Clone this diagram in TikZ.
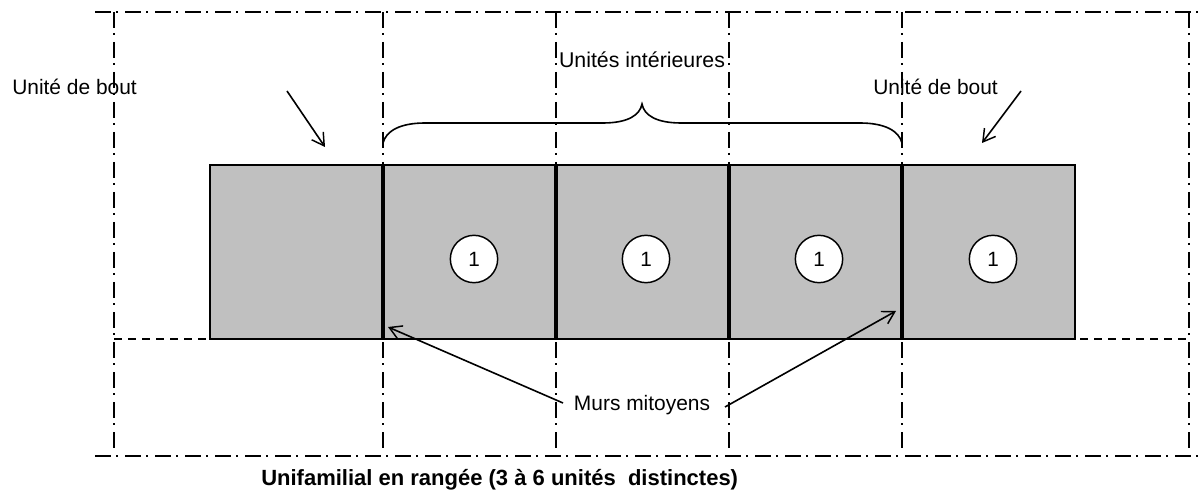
\documentclass[tikz,border=0pt]{standalone}
\usepackage{fontspec}
\setmainfont{Liberation Sans}
\usetikzlibrary{arrows.meta}
\definecolor{gray75}{RGB}{192,192,192}
\tikzset{
  axisline/.style={line width=1.25pt,black,dash pattern=on 12pt off 3.75pt on 1.5pt off 5.25pt},
  dashline/.style={line width=1.2pt,black,dash pattern=on 6.25pt off 4.25pt},
  unitbox/.style={draw=black,fill=gray75,line width=1.4pt,minimum width=129.75pt,minimum height=130.5pt,inner sep=0pt,outer sep=0pt,anchor=north west},
  party/.style={line width=2.8pt,black},
  circ/.style={circle,draw=black,fill=white,line width=1.1pt,minimum size=35.5pt,inner sep=0pt,font=\fontsize{15.5}{18}\selectfont},
  lab/.style={inner sep=0pt,font=\fontsize{15.7}{18}\selectfont},
  pointer/.style={line width=1.2pt,black,-{Straight Barb[length=9pt,width=10.5pt,line width=1.1pt]}},
  bracel/.style={line width=1.2pt,black}
}
\begin{document}
\begin{tikzpicture}[x=0.75pt,y=-0.75pt]
\useasboundingbox (0,0) rectangle (1201,491);
\fill[white] (0,0) rectangle (1201,491);
\coordinate (tl) at (95,12); \coordinate (tr) at (1200,12);
\coordinate (bl) at (95,456); \coordinate (br) at (1200,456);
\draw[axisline] (tl) -- (tr);
\draw[axisline] (bl) -- (br);
\foreach \n/\x in {a/114,b/383,c/556,d/729,e/902,f/1189}{
  \coordinate (\n t) at (\x,12); \coordinate (\n b) at (\x,448);
  \draw[axisline] (\n t) -- (\n b);
}
\node[unitbox] (u1) at (210,165) {};
\node[unitbox] (u2) at (383,165) {};
\node[unitbox] (u3) at (556,165) {};
\node[unitbox] (u4) at (729,165) {};
\node[unitbox] (u5) at (902,165) {};
\coordinate (dl) at (114,339); \coordinate (dr) at (1188,339);
\draw[dashline] (dl) -- (dr);
\draw[party] (u2.north west) -- (u2.south west);
\draw[party] (u3.north west) -- (u3.south west);
\draw[party] (u4.north west) -- (u4.south west);
\draw[party] (u5.north west) -- (u5.south west);
\node[circ] (c1) at (474,259) {1};
\node[circ] (c2) at (646,259) {1};
\node[circ] (c3) at (819,259) {1};
\node[circ] (c4) at (993,259) {1};
\coordinate (bs) at (383,143); \coordinate (bm) at (642,104); \coordinate (be) at (902,143);
\draw[bracel] (bs) .. controls (386,131) and (400,123) .. (425,123) -- (603,123) .. controls (628,123) and (640,115) .. (bm)
  .. controls (644,115) and (656,123) .. (681,123) -- (860,123) .. controls (885,123) and (899,131) .. (be);
\node[lab,anchor=west] (l1) at (12,87) {Unité de bout};
\node[lab,anchor=west] (l2) at (873,87) {Unité de bout};
\node[lab,font=\fontsize{16}{18}\selectfont] (l3) at (642,60) {Unités intérieures};
\node[lab] (l4) at (642,405) {Murs mitoyens};
\node[lab,anchor=west,font=\fontsize{16.5}{20}\selectfont\bfseries] (l5) at (261,480) {Unifamilial en rangée (3 à 6 unités\ \ distinctes)};
\coordinate (a1s) at (287,91); \coordinate (a1e) at (325,147);
\coordinate (a2s) at (1021,91); \coordinate (a2e) at (982,143);
\coordinate (a3s) at (563,403); \coordinate (a3e) at (388,327);
\coordinate (a4s) at (725,407); \coordinate (a4e) at (896,311);
\draw[pointer] (a1s) -- (a1e);
\draw[pointer] (a2s) -- (a2e);
\draw[pointer] (a3s) -- (a3e);
\draw[pointer] (a4s) -- (a4e);
\end{tikzpicture}
\end{document}
